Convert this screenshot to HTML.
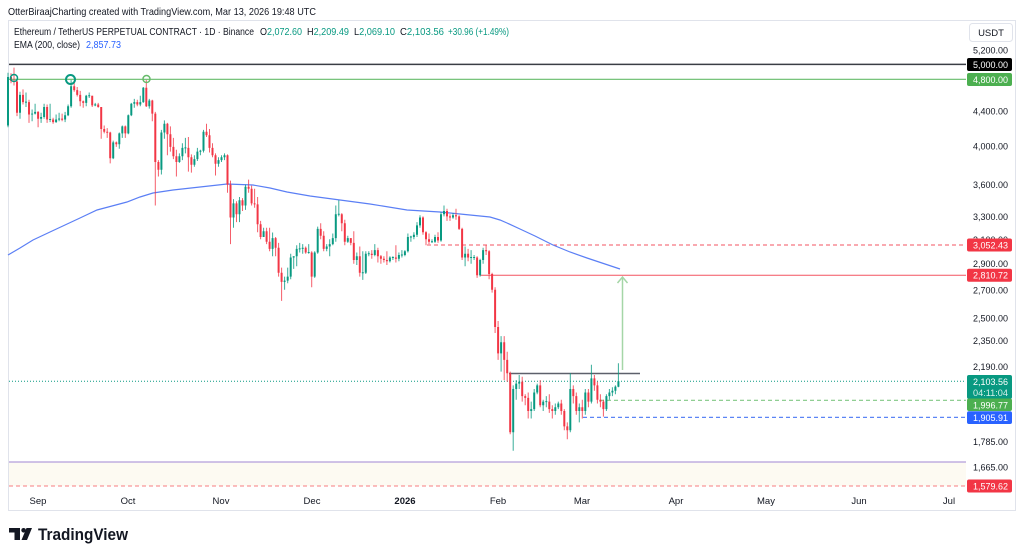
<!DOCTYPE html>
<html><head><meta charset="utf-8"><style>
html,body{margin:0;padding:0;background:#fff;}
svg{display:block;font-family:"Liberation Sans",sans-serif;}
</style></head><body>
<svg width="1024" height="557" viewBox="0 0 1024 557" xmlns="http://www.w3.org/2000/svg">
<rect width="1024" height="557" fill="#fff"/>
<text x="8" y="15" font-size="10.5" fill="#131722" textLength="308" lengthAdjust="spacingAndGlyphs">OtterBiraajCharting created with TradingView.com, Mar 13, 2026 19:48 UTC</text>
<rect x="8.5" y="20.5" width="1007" height="490" fill="none" stroke="#e0e3eb"/>

<rect x="9" y="462" width="957" height="24" fill="#fdfaf2"/>
<line x1="9" y1="64.4" x2="966" y2="64.4" stroke="#3a3d45" stroke-width="1.5"/>
<line x1="9" y1="79.3" x2="966" y2="79.3" stroke="#66bb6a" stroke-width="1.2"/>
<line x1="427" y1="245" x2="966" y2="245" stroke="#f23645" stroke-width="1" stroke-dasharray="4,3" opacity="0.85"/>
<line x1="480" y1="275.2" x2="966" y2="275.2" stroke="#f23645" stroke-width="1" opacity="0.85"/>
<line x1="9" y1="381.2" x2="966" y2="381.2" stroke="#089981" stroke-width="1" stroke-dasharray="1,2"/>
<line x1="600" y1="400.3" x2="966" y2="400.3" stroke="#81c784" stroke-width="1.2" stroke-dasharray="4,3"/>
<line x1="583" y1="417.4" x2="966" y2="417.4" stroke="#5c85f5" stroke-width="1.2" stroke-dasharray="4,3"/>
<line x1="9" y1="462" x2="966" y2="462" stroke="#b39ddb" stroke-width="1.3"/>
<line x1="9" y1="486" x2="966" y2="486" stroke="#f77c80" stroke-width="1" stroke-dasharray="4,3"/>
<line x1="509" y1="373.5" x2="640" y2="373.5" stroke="#5d606b" stroke-width="1.5"/>

<polyline fill="none" stroke="#5b7ff5" stroke-width="1.2" points="8,255 20,248 33,240 50,232 65,225 80,218 97,210 112,206 127,202 140,197 153,193 173,190 200,187 227,184 253,185 270,188 287,192 310,196 340,200 370,204 407,210 440,212 460,214 480,216 490,217 500,220 507,223 520,229 535,236 553,245 570,252 587,258 605,264 620,269"/>

<path fill="none" stroke="#089981" stroke-width="1" stroke-opacity="0.8" d="M8 72.8V127.2M20 91.7V118.7M26 92.5V107M32.1 109.5V121.2M35.1 103.7V114.5M41.1 112.8V122.9M44.1 103.7V118.7M50.1 103.7V122.1M56.1 114.5V122.9M59.1 112.8V121.2M65.1 111.9V122.1M68.1 104.5V116.1M71.1 80.1V107.8M86.2 94.9V106.2M89.2 92.5V98M95.2 102.9V106.2M113.2 140.6V159.1M119.3 132.5V148.8M122.3 125.5V137.9M128.3 114.5V134.3M131.3 102.9V116.1M134.3 98.9V107.8M140.3 95.7V106.2M143.3 87V102.9M149.3 98.9V108.6M161.4 129.9V174.5M164.4 120.4V138.8M179.4 153.4V162.9M182.4 143.3V160.1M185.4 137.9V153.4M194.4 155.3V166.7M197.4 147.9V161M200.4 149.7V155.3M203.5 129.9V152.5M218.5 157.2V166.7M221.5 155.3V162M224.5 153.4V160.1M233.5 199.1V227.7M239.5 197V222.1M245.5 184.6V209.9M263.6 227.7V237M272.6 232.5V256.3M284.6 276.6V289.8M287.7 267.6V283.2M290.7 253.8V279.2M293.7 256.3V268.9M296.7 245.3V266.3M299.7 242.9V252.5M302.7 244.1V253.8M308.7 244.1V253.8M314.7 251.3V277.9M317.7 226.6V253.8M326.7 244.1V251.3M329.7 239.3V256.3M332.8 233.5V245.3M335.8 205.5V241.7M338.8 200.2V216.4M347.8 235.8V242.9M356.8 252.5V265M362.8 251.3V279.9M365.8 251.3V274M368.8 251.3V256.3M374.8 244.1V256.3M389.9 256.3V262.5M392.9 256.3V260M398.9 252.5V261.2M401.9 250.1V257.5M404.9 250.1V256.3M407.9 233.5V252.5M410.9 235.8V241.7M413.9 232.3V239.3M417 222.1V237M420 215.3V227.7M432 239.3V242.9M435 234.7V242.9M441 212V241.7M444 205.5V216.4M453 213.1V218.7M465.1 246.5V266.3M471.1 250.1V263.7M474.1 255V260M480.1 258.7V276.6M483.1 247.7V263.7M501.1 336.1V371.6M513.2 385.4V450.8M516.2 380.1V399.7M519.2 375V389M531.2 401.6V418.5M534.2 389V411M537.2 383.6V394.3M543.2 399.7V411M546.3 396.1V407.2M555.3 403.5V414.7M558.3 401.6V409.1M570.3 373.3V432.3M579.3 403.5V422.4M585.3 389V414.7M591.4 364.8V403.5M606.4 394.3V411M609.4 389V399.7M612.4 387.2V396.1M615.4 385.4V394.3M618.4 363.3V387.3"/>
<path fill="none" stroke="#089981" stroke-width="2" d="M8 77V125.5M20 94.9V112.8M26 101.6V102.6M32.1 113.6V114.5M35.1 111.9V113.6M41.1 117V118.7M44.1 107V117M50.1 119V120M56.1 119.5V122.1M59.1 118.5V119.6M65.1 115.3V119.5M68.1 106.2V115.3M71.1 86.2V106.2M86.2 95.7V102.9M89.2 95.2V96.2M95.2 104.4V105.5M113.2 142.4V158.2M119.3 133.4V144.2M122.3 126.4V133.4M128.3 115.3V133.4M131.3 103.7V115.3M134.3 102.1V103.7M140.3 102.1V104.5M143.3 87.8V102.1M149.3 100.5V106.2M161.4 132.5V169.7M164.4 123.8V132.5M179.4 156.3V162M182.4 147.9V156.3M185.4 147.4V148.4M194.4 159.1V164.8M197.4 151.6V159.1M200.4 150.6V151.7M203.5 131.7V150.7M218.5 160.1V163.8M221.5 157.2V160.1M224.5 155.3V157.2M233.5 203.4V217.5M239.5 200.2V214.2M245.5 186.7V205.5M263.6 231.2V237M272.6 238.1V248.9M284.6 280.6V281.9M287.7 276.6V280.6M290.7 257.5V276.6M293.7 256.3V257.5M296.7 248.9V256.3M299.7 248.4V249.4M302.7 247.7V248.9M308.7 252V253M314.7 252.5V276.6M317.7 228.9V252.5M326.7 246.5V248.9M329.7 244.1V246.5M332.8 238.1V244.1M335.8 214.2V238.1M338.8 213.7V214.7M347.8 238.1V241.7M356.8 256.3V260M362.8 272.2V273.2M365.8 253.8V272.7M368.8 253.3V254.3M374.8 250.1V255M389.9 257.5V261.2M392.9 257V258M398.9 255V258.7M401.9 254.5V255.5M404.9 251.3V255M407.9 237V251.3M410.9 236.5V237.5M413.9 234.7V237M417 225.4V234.7M420 217.5V225.4M432 241.2V242.2M435 237V241.7M441 214.2V240.5M444 211V214.2M453 215.3V217.5M465.1 253.8V257.5M471.1 257V258M474.1 257V258M480.1 260V275.3M483.1 250.1V260M501.1 342.3V353.4M513.2 389V432.3M516.2 383.6V389M519.2 381.8V383.6M531.2 409.1V411M534.2 392.5V409.1M537.2 385.4V392.5M543.2 401.6V405.3M546.3 401.1V402.1M555.3 407.2V411M558.3 403.5V407.2M570.3 389V430.3M579.3 407.2V411M585.3 392.5V411M591.4 378.4V401.6M606.4 396.1V409.1M609.4 392.5V396.1M612.4 390.7V392.5M615.4 386.6V390.7M618.4 381.2V386.7"/>
<path fill="none" stroke="#f23645" stroke-width="1" stroke-opacity="0.8" d="M11 73.2V83.2M14 67.6V85.5M17 80.1V116.1M23 89.4V104.5M29 99.7V122.9M38.1 111.1V127.2M47.1 104.5V122.9M53.1 117.8V123.8M62.1 113.6V121.2M74.2 81.6V91.7M77.2 87V96.5M80.2 90.9V106.2M83.2 100.5V107.8M92.2 95.7V107M98.2 102.9V107.8M101.2 107V138.8M104.2 125.5V133.4M107.2 128.1V137.9M110.2 131.7V163.4M116.3 141.5V146.9M125.3 125.5V137.9M137.3 99.7V106.2M146.3 80.1V107M152.3 99.7V121.2M155.3 111.9V205.5M158.4 160.1V176.5M167.4 122.9V155.3M170.4 126.4V151.6M173.4 137.9V159.1M176.4 149.7V176.5M188.4 137V171.6M191.4 154.4V172.6M206.5 123.8V137M209.5 129V152.5M212.5 143.3V157.2M215.5 153.4V175.5M227.5 154.4V192.8M230.5 180.6V244.1M236.5 201.3V222.1M242.5 198.1V211M248.6 179.6V192.8M251.6 185.6V205.5M254.6 188.7V207.7M257.6 197V232.3M260.6 220.9V239.3M266.6 227.7V244.1M269.6 227.7V251.3M275.6 237V256.3M278.6 242.9V276.6M281.6 267.6V300.9M305.7 246.5V253.8M311.7 251.3V287.2M320.7 223.2V239.3M323.7 231.2V251.3M341.8 213.1V231.2M344.8 219.8V245.3M350.8 238.1V245.3M353.8 231.2V263.7M359.8 246.5V276.6M371.8 250.1V258.7M377.9 247.7V262.5M380.9 255V263.7M383.9 256.3V262.5M386.9 251.3V265M395.9 245.3V262.5M423 216.4V234.7M426 231.2V245.3M429 233.5V244.1M438 232.3V242.9M447 208.8V220.9M450 214.2V220.9M456 208.8V219.8M459.1 215.3V230M462.1 227.7V260M468.1 248.9V261.2M477.1 256.3V277.9M486.1 245.3V255M489.1 250.1V279.2M492.1 272.7V292.6M495.1 287.2V333M498.1 321V359.9M504.2 336.1V380.1M507.2 351.8V381.8M510.2 371.6V434.3M522.2 376.7V401.6M525.2 394.3V405.3M528.2 392.5V418.5M540.2 380.1V407.2M549.3 394.3V412.9M552.3 405.3V418.5M561.3 399.7V414.7M564.3 409.1V430.3M567.3 422.4V439.2M573.3 385.4V403.5M576.3 392.5V414.7M582.3 399.7V418.5M588.4 389V407.2M594.4 375V390.7M597.4 381.8V403.5M600.4 394.3V407.2M603.4 399.7V416.6"/>
<path fill="none" stroke="#f23645" stroke-width="2" d="M11 77V80.8M14 80.8V81.8M17 81.6V112.8M23 94.9V102.1M29 102.1V114.5M38.1 111.9V118.7M47.1 107V119.5M53.1 119.5V122.1M62.1 118.6V119.7M74.2 86.2V90.1M77.2 90.1V94.9M80.2 94.9V101.3M83.2 101.3V102.9M92.2 95.7V105.4M98.2 104.5V107M101.2 107V129M104.2 129V131.7M107.2 131.7V132.7M110.2 132.5V158.2M116.3 142.4V144.2M125.3 126.4V133.4M137.3 102.1V104.5M146.3 87.8V106.2M152.3 100.5V113.6M155.3 113.6V162M158.4 162V169.7M167.4 123.8V134.3M170.4 134.3V146.9M173.4 146.9V156.3M176.4 156.3V162M188.4 147.9V157.2M191.4 157.2V164.8M206.5 131.7V135.2M209.5 135.2V147.9M212.5 147.9V155.3M215.5 155.3V163.8M227.5 155.3V184.6M230.5 184.6V217.5M236.5 203.4V214.2M242.5 200.2V205.5M248.6 186.7V188.7M251.6 188.7V203.4M254.6 203.4V204.4M257.6 204.4V224.3M260.6 224.3V237M266.6 231.2V241.7M269.6 241.7V248.9M275.6 238.1V247.7M278.6 247.7V272.7M281.6 272.7V281.9M305.7 247.7V252.5M311.7 252.5V276.6M320.7 228.9V235.8M323.7 235.8V248.9M341.8 214.2V223.2M344.8 223.2V241.7M350.8 238.1V242.9M353.8 242.9V260M359.8 256.3V272.7M371.8 253.8V255M377.9 250.1V256.3M380.9 256.3V258.7M383.9 258.7V260M386.9 260V261.2M395.9 257.5V258.7M423 217.5V232.3M426 232.3V239.3M429 239.3V241.7M438 237V240.5M447 211V216.4M450 216.4V217.5M456 215.3V216.4M459.1 216.4V228.9M462.1 228.9V257.5M468.1 253.8V257.5M477.1 257.5V275.3M486.1 250.1V251.3M489.1 251.3V274M492.1 274V289.8M495.1 289.8V327M498.1 327V353.4M504.2 342.3V359.9M507.2 359.9V373.3M510.2 373.3V432.3M522.2 381.8V396.1M525.2 396.1V397.9M528.2 397.9V411M540.2 385.4V405.3M549.3 401.6V409.1M552.3 409.1V411M561.3 403.5V411M564.3 411V426.4M567.3 426.4V430.3M573.3 389V396.1M576.3 396.1V411M582.3 407.2V411M588.4 392.5V401.6M594.4 378.4V385.4M597.4 385.4V399.7M600.4 399.7V401.6M603.4 401.6V409.1"/>

<circle cx="14" cy="78" r="3.5" fill="none" stroke="#089981" stroke-width="1.5"/>
<circle cx="70.5" cy="79.5" r="4.5" fill="none" stroke="#089981" stroke-width="2"/>
<circle cx="146.5" cy="79" r="3.5" fill="none" stroke="#66bb6a" stroke-width="1.5"/>

<line x1="622.5" y1="370" x2="622.5" y2="277" stroke="#a5d6a7" stroke-width="1.5"/>
<polyline points="617.5,283 622.5,277 627.5,283" fill="none" stroke="#a5d6a7" stroke-width="1.5"/>

<g font-size="10" fill="#131722">
<text x="14" y="35" textLength="240" lengthAdjust="spacingAndGlyphs">Ethereum / TetherUS PERPETUAL CONTRACT · 1D · Binance</text>
<text x="260" y="35" textLength="42" lengthAdjust="spacingAndGlyphs">O<tspan fill="#089981">2,072.60</tspan></text>
<text x="307" y="35" textLength="42" lengthAdjust="spacingAndGlyphs">H<tspan fill="#089981">2,209.49</tspan></text>
<text x="354" y="35" textLength="41" lengthAdjust="spacingAndGlyphs">L<tspan fill="#089981">2,069.10</tspan></text>
<text x="400" y="35" textLength="44" lengthAdjust="spacingAndGlyphs">C<tspan fill="#089981">2,103.56</tspan></text>
<text x="448" y="35" fill="#089981" textLength="61" lengthAdjust="spacingAndGlyphs">+30.96 (+1.49%)</text>
<text x="14" y="48" textLength="66" lengthAdjust="spacingAndGlyphs">EMA (200, close)</text>
<text x="86" y="48" fill="#2962ff" textLength="35" lengthAdjust="spacingAndGlyphs">2,857.73</text>
</g>

<rect x="969.5" y="23.5" width="43" height="18" rx="3" fill="#fff" stroke="#e0e3eb"/>
<text x="991" y="36" font-size="9.5" fill="#131722" text-anchor="middle">USDT</text>

<g font-size="9.5" fill="#131722" text-anchor="end">
<text x="1008" y="53.5" textLength="35" lengthAdjust="spacingAndGlyphs">5,200.00</text>
<text x="1008" y="114.6" textLength="35" lengthAdjust="spacingAndGlyphs">4,400.00</text>
<text x="1008" y="149.5" textLength="35" lengthAdjust="spacingAndGlyphs">4,000.00</text>
<text x="1008" y="188.1" textLength="35" lengthAdjust="spacingAndGlyphs">3,600.00</text>
<text x="1008" y="219.9" textLength="35" lengthAdjust="spacingAndGlyphs">3,300.00</text>
<text x="1008" y="242.8" textLength="35" lengthAdjust="spacingAndGlyphs">3,100.00</text>
<text x="1008" y="267.2" textLength="35" lengthAdjust="spacingAndGlyphs">2,900.00</text>
<text x="1008" y="293.4" textLength="35" lengthAdjust="spacingAndGlyphs">2,700.00</text>
<text x="1008" y="321.5" textLength="35" lengthAdjust="spacingAndGlyphs">2,500.00</text>
<text x="1008" y="344.2" textLength="35" lengthAdjust="spacingAndGlyphs">2,350.00</text>
<text x="1008" y="370" textLength="35" lengthAdjust="spacingAndGlyphs">2,190.00</text>
<text x="1008" y="444.8" textLength="35" lengthAdjust="spacingAndGlyphs">1,785.00</text>
<text x="1008" y="470.3" textLength="35" lengthAdjust="spacingAndGlyphs">1,665.00</text>
</g>

<g font-size="9.5" fill="#fff" text-anchor="end">
<rect x="967" y="58" width="45" height="13" rx="2" fill="#000"/>
<text x="1008" y="68" textLength="35" lengthAdjust="spacingAndGlyphs">5,000.00</text>
<rect x="967" y="73" width="45" height="13" rx="2" fill="#4caf50"/>
<text x="1008" y="83" textLength="35" lengthAdjust="spacingAndGlyphs">4,800.00</text>
<rect x="967" y="238.5" width="45" height="13" rx="2" fill="#f23645"/>
<text x="1008" y="248.5" textLength="35" lengthAdjust="spacingAndGlyphs">3,052.43</text>
<rect x="967" y="268.7" width="45" height="13" rx="2" fill="#f23645"/>
<text x="1008" y="278.7" textLength="35" lengthAdjust="spacingAndGlyphs">2,810.72</text>
<rect x="967" y="375" width="45" height="24" rx="2" fill="#089981"/>
<text x="1008" y="385" textLength="35" lengthAdjust="spacingAndGlyphs">2,103.56</text>
<text x="1008" y="396" textLength="35" lengthAdjust="spacingAndGlyphs" fill="#d7f0ea">04:11:04</text>
<rect x="967" y="398.5" width="45" height="12.5" rx="2" fill="#4caf50"/>
<text x="1008" y="408.3" textLength="35" lengthAdjust="spacingAndGlyphs">1,996.77</text>
<rect x="967" y="411.2" width="45" height="12.8" rx="2" fill="#2962ff"/>
<text x="1008" y="421" textLength="35" lengthAdjust="spacingAndGlyphs">1,905.91</text>
<rect x="967" y="479.5" width="45" height="13" rx="2" fill="#f23645"/>
<text x="1008" y="489.5" textLength="35" lengthAdjust="spacingAndGlyphs">1,579.62</text>
</g>

<g font-size="9.5" fill="#131722" text-anchor="middle">
<text x="38" y="504">Sep</text>
<text x="128" y="504">Oct</text>
<text x="221" y="504">Nov</text>
<text x="312" y="504">Dec</text>
<text x="405" y="504" font-weight="bold">2026</text>
<text x="498" y="504">Feb</text>
<text x="582" y="504">Mar</text>
<text x="676" y="504">Apr</text>
<text x="766" y="504">May</text>
<text x="859" y="504">Jun</text>
<text x="949" y="504">Jul</text>
</g>

<g fill="#131722">
<rect x="9" y="528" width="11" height="4.5"/>
<rect x="14.5" y="528" width="5.5" height="12"/>
<circle cx="23.6" cy="530.3" r="2.3"/>
<polygon points="26.5,528 32,528 27,540 21.5,540"/>
<text x="38" y="540" font-size="17" font-weight="bold" textLength="90" lengthAdjust="spacingAndGlyphs">TradingView</text>
</g>
</svg>
</body></html>
